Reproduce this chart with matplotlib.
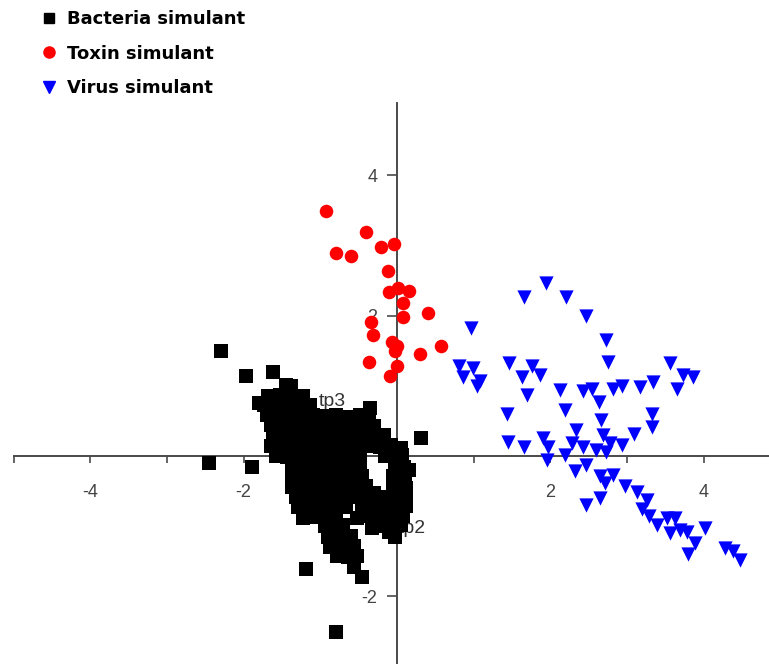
import matplotlib
matplotlib.use("Agg")
import matplotlib.pyplot as plt
from matplotlib.lines import Line2D

# ---------------- data ----------------
bacteria_x = [
    -1.45, -1.38,
    -1.68, -1.52, -1.37, -1.22,
    -1.80, -1.73, -1.58, -1.43, -1.28, -1.13,
    -1.70, -1.55, -1.40, -1.25, -1.10, -0.95, -0.80, -0.65, -0.48,
    -1.64, -1.50, -1.35, -1.20, -1.05, -0.90, -0.75, -0.60, -0.45, -0.30,
    -1.62, -1.48, -1.33, -1.18, -1.03, -0.88, -0.72, -0.58, -0.44, -0.30, -0.17,
    -1.64, -1.50, -1.33, -1.18, -1.02, -0.86, -0.70, -0.52, -0.38, -0.22, -0.08, 0.05,
    -1.58, -1.44, -1.28, -1.12, -0.97, -0.80, -0.64, -0.48, -0.15, 0.02, 0.07,
    -1.37, -1.22, -1.08, -0.93, -0.78, -0.62, -0.48, -0.02, 0.09,
    -1.37, -1.22, -1.06, -0.90, -0.74, -0.58, -0.46, -0.05, 0.10,
    -1.37, -1.20, -1.05, -0.88, -0.72, -0.56, -0.40, -0.05, 0.12,
    -1.32, -1.17, -1.01, -0.86, -0.70, -0.55, -0.38, -0.22, -0.06, 0.12,
    -1.29, -1.13, -0.98, -0.82, -0.66, -0.45, -0.30, -0.14, 0.02, 0.12,
    -1.20, -1.05, -0.90, -0.52, -0.37, -0.21, -0.06, 0.08,
    -0.94, -0.80, -0.70, -0.32, -0.18, -0.03, 0.05,
    -0.90, -0.75, -0.60, -0.02,
    -0.87, -0.72, -0.56,
    -0.78, -0.64, -0.52,
    -0.56, -0.45,
    -1.55, -1.30, -1.12, -0.98, -0.67, -0.52, -0.36, -0.12, -1.28, -1.00,
    -0.84, -0.66, -0.30, 0.15, -1.10, -0.80, -0.95, -0.62, -0.25, -0.10,
    -2.30, -1.97, -1.62, -0.35, 0.31, -2.45, -1.89, -1.18, -0.79, -1.22,
]
bacteria_y = [
    1.01, 1.00,
    0.86, 0.87, 0.85, 0.86,
    0.76, 0.72, 0.71, 0.73, 0.70, 0.72,
    0.58, 0.57, 0.59, 0.56, 0.58, 0.57, 0.59, 0.56, 0.58,
    0.44, 0.43, 0.45, 0.42, 0.44, 0.43, 0.45, 0.42, 0.44, 0.43,
    0.29, 0.28, 0.30, 0.27, 0.29, 0.28, 0.30, 0.27, 0.29, 0.28, 0.30,
    0.14, 0.13, 0.15, 0.12, 0.14, 0.13, 0.15, 0.12, 0.14, 0.13, 0.15, 0.12,
    0.00, -0.01, 0.01, -0.02, 0.00, -0.01, 0.01, -0.02, 0.00, -0.01, 0.01,
    -0.15, -0.16, -0.14, -0.17, -0.15, -0.16, -0.14, -0.15, -0.16,
    -0.29, -0.30, -0.28, -0.31, -0.29, -0.30, -0.28, -0.29, -0.30,
    -0.44, -0.45, -0.43, -0.46, -0.44, -0.45, -0.43, -0.44, -0.45,
    -0.58, -0.59, -0.57, -0.60, -0.58, -0.59, -0.57, -0.58, -0.59, -0.57,
    -0.72, -0.73, -0.71, -0.74, -0.72, -0.73, -0.71, -0.72, -0.73, -0.71,
    -0.86, -0.87, -0.85, -0.88, -0.86, -0.87, -0.85, -0.86,
    -1.00, -1.01, -0.99, -1.02, -1.00, -1.01, -0.99,
    -1.15, -1.16, -1.14, -1.15,
    -1.29, -1.30, -1.28,
    -1.43, -1.44, -1.42,
    -1.58, -1.72,
    0.65, 0.36, 0.22, 0.07, 0.21, 0.36, 0.52, 0.06, -0.08, -0.37,
    -0.51, -0.22, -0.52, -0.20, -0.80, -0.93, -0.65, -0.36, -0.81, -1.08,
    1.49, 1.14, 1.20, 0.69, 0.25, -0.10, -0.15, -1.61, -2.51, -0.89,
]

toxin_x = [-0.92, -0.41, -0.80, -0.60, -0.21, -0.04, -0.12, 0.01, -0.10, 0.16,
           0.08, 0.08, 0.41, -0.34, -0.31, -0.06, -0.03, 0.30, 0.57, -0.36,
           0.00, -0.09, 0.00]
toxin_y = [3.49, 3.19, 2.89, 2.85, 2.98, 3.02, 2.64, 2.40, 2.33, 2.35,
           2.18, 1.98, 2.03, 1.91, 1.72, 1.63, 1.49, 1.45, 1.56, 1.34,
           1.28, 1.14, 1.56]

virus_x = [1.94, 1.66, 2.20, 2.46, 0.96, 2.73, 2.75, 1.46, 0.81, 0.99,
           0.86, 1.08, 1.04, 1.76, 1.86, 1.63, 1.70, 3.56, 3.73, 3.86,
           3.65, 2.13, 2.42, 2.54, 2.64, 2.82, 2.93, 3.17, 3.34, 2.19,
           1.43, 3.32, 3.32, 2.66, 2.34, 3.09, 1.45, 1.66, 1.91, 1.97,
           1.96, 2.28, 2.43, 2.19, 2.32, 2.46, 2.59, 2.69, 2.78, 2.93,
           2.73, 2.65, 2.82, 2.71, 2.65, 2.46, 2.97, 3.13, 3.26, 3.19,
           3.28, 3.39, 3.52, 3.62, 3.56, 3.69, 3.78, 4.02, 3.89, 3.80,
           4.28, 4.38, 4.47]
virus_y = [2.46, 2.27, 2.26, 1.99, 1.82, 1.65, 1.34, 1.33, 1.28, 1.25,
           1.12, 1.07, 1.00, 1.28, 1.15, 1.12, 0.87, 1.32, 1.15, 1.13,
           0.96, 0.94, 0.92, 0.96, 0.77, 0.96, 1.00, 0.99, 1.06, 0.66,
           0.60, 0.60, 0.42, 0.51, 0.37, 0.32, 0.20, 0.13, 0.25, 0.13,
           -0.06, 0.18, 0.13, 0.01, -0.22, -0.13, 0.09, 0.30, 0.18, 0.16,
           0.06, -0.29, -0.27, -0.39, -0.60, -0.70, -0.43, -0.51, -0.63, -0.75,
           -0.86, -0.98, -0.89, -0.89, -1.10, -1.05, -1.08, -1.03, -1.24, -1.39,
           -1.31, -1.36, -1.48]

series_labels = ["Bacteria simulant", "Toxin simulant", "Virus simulant"]
x_ticks = [-4, -2, 2, 4]
y_ticks = [-2, 2, 4]

# ---------------- figure ----------------
W, H = 769, 664
fig = plt.figure(figsize=(W / 100, H / 100), dpi=100)
ax = fig.add_axes([0, 0, 1, 1])

x0_px, y0_px = 397.0, 456.0
sx, sy = 76.7, 70.2
ax.set_xlim(-x0_px / sx, (W - x0_px) / sx)
ax.set_ylim(-(H - y0_px) / sy, y0_px / sy)

for s in ["top", "right"]:
    ax.spines[s].set_visible(False)
ax.spines["left"].set_position(("data", 0))
ax.spines["bottom"].set_position(("data", 0))
spine_col = "#4a4a4a"
for s in ["left", "bottom"]:
    ax.spines[s].set_color(spine_col)
    ax.spines[s].set_linewidth(1.4)
ax.spines["left"].set_bounds(-(H - y0_px) / sy, (y0_px - 103) / sy)
ax.spines["bottom"].set_bounds(-5.0, (W - x0_px) / sx)
ax.spines["left"].set_zorder(1)
ax.spines["bottom"].set_zorder(1)

ax.set_xticks(x_ticks)
ax.set_xticks([-5, -3, -1, 1, 3], minor=True)
ax.set_yticks(y_ticks)
ax.set_xticklabels([f"{t:g}" for t in x_ticks])
ax.set_yticklabels([f"{t:g}" for t in y_ticks])
ax.tick_params(axis="x", which="both", direction="out", length=5, width=1.2,
               color=spine_col, pad=15, labelsize=13, labelcolor="#444444")
ax.tick_params(axis="y", which="both", direction="out", length=7, width=1.2,
               color=spine_col, pad=7, labelsize=13, labelcolor="#444444")
for lab in ax.get_xticklabels() + ax.get_yticklabels():
    lab.set_fontfamily("Liberation Sans")

# annotation labels partly hidden behind markers
ax.text(-1.02, 0.77, "tp3", fontsize=14, family="Liberation Sans",
        color="#333333", ha="left", va="center", zorder=2)
ax.text(0.2, -1.03, "tp2", fontsize=14, family="Liberation Sans",
        color="#333333", ha="center", va="center", zorder=2)

ax.scatter(bacteria_x, bacteria_y, marker="s", s=90, color="black",
           linewidths=0, zorder=3)
ax.scatter(toxin_x, toxin_y, marker="o", s=95, color="#ff0000",
           linewidths=0, zorder=3)
ax.scatter(virus_x, virus_y, marker="v", s=105, color="#0000ff",
           linewidths=0, zorder=3)

handles = [
    Line2D([], [], ls="none", marker="s", ms=7, color="black"),
    Line2D([], [], ls="none", marker="o", ms=8, color="#ff0000"),
    Line2D([], [], ls="none", marker="v", ms=9, color="#0000ff"),
]
fig.legend(handles, series_labels, loc="upper left",
           bbox_to_anchor=(0.035, 1.004), frameon=False,
           prop={"family": "DejaVu Sans", "weight": "bold", "size": 13},
           handlelength=1.0, handletextpad=0.5, labelspacing=0.92,
           borderaxespad=0.3)

fig.savefig("out.png", dpi=100)
